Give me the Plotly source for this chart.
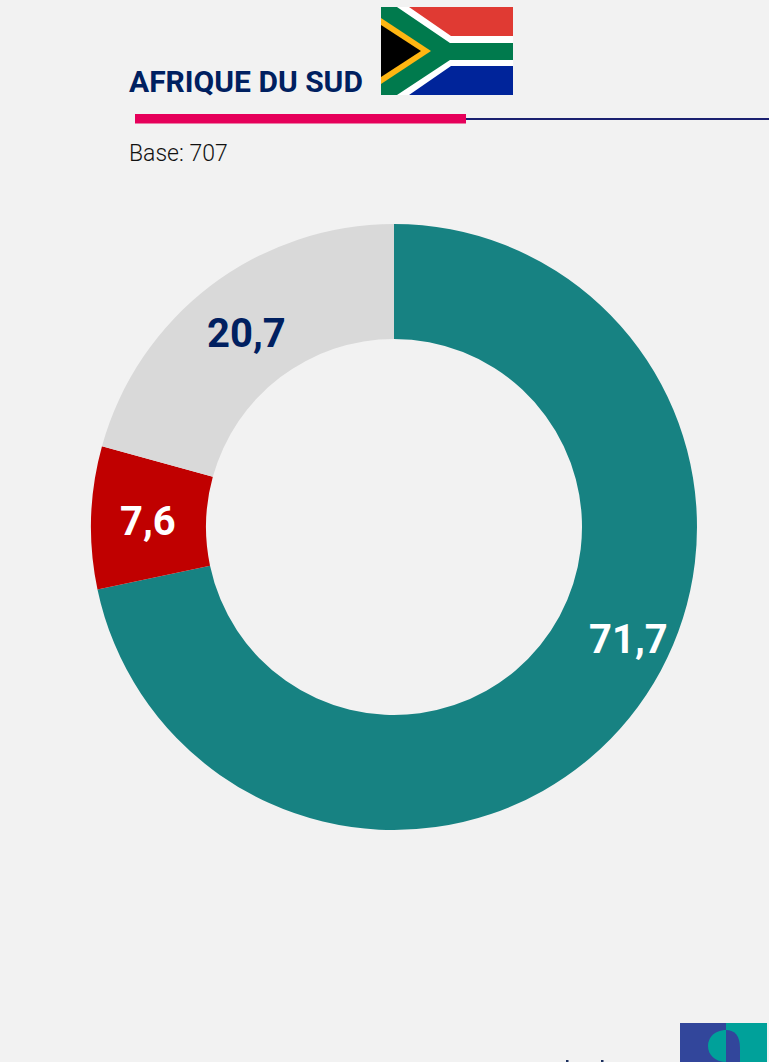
import plotly.graph_objects as go

W, H = 769, 1062
labels = ["Catégorie A", "Catégorie B", "Catégorie C"]
values = [71.7, 7.6, 20.7]
colors = ["#178282", "#C00000", "#D9D9D9"]
label_colors = ["white", "white", "#002060"]
label_pos = [(628, 639), (148, 521), (246, 334)]
title = "AFRIQUE DU SUD"
base = "Base: 707"
BG = "#F2F2F2"
FONT = "Roboto"

def px(x): return x / W
def py(y): return 1 - y / H

fig = go.Figure(go.Pie(
    labels=labels, values=values, sort=False, direction="clockwise", rotation=0,
    hole=188 / 303, marker=dict(colors=colors, line=dict(width=0)),
    textinfo="none", hoverinfo="label+value", showlegend=False,
    domain=dict(x=[px(91), px(697)], y=[py(830), py(224)]),
))

def rect(x0, y0, x1, y1, c):
    return dict(type="rect", xref="paper", yref="paper", x0=px(x0), x1=px(x1),
                y0=py(y0), y1=py(y1), fillcolor=c, line_width=0, layer="above")

def poly(pts, c):
    path = "M" + " L".join(f"{px(x):.5f},{py(y):.5f}" for x, y in pts) + " Z"
    return dict(type="path", xref="paper", yref="paper", path=path, fillcolor=c,
                line_width=0, layer="above")

shapes = [
    dict(type="line", xref="paper", yref="paper", x0=px(460), x1=1, y0=py(119), y1=py(119),
         line=dict(color="#1B2070", width=2)),
    rect(135, 114, 466, 123.5, "#E6005A"),
    # flag
    rect(381, 7, 513, 51, "#E03A33"),
    rect(381, 51, 513, 95, "#00249A"),
    poly([(381, 7), (409, 7), (451, 36), (513, 36), (513, 66), (451, 66), (409, 95), (381, 95)], "#FFFFFF"),
    poly([(381, 7), (397, 7), (450, 43), (513, 43), (513, 60), (450, 60), (397, 95), (381, 95)], "#007A4D"),
    poly([(381, 18), (431, 51), (381, 84)], "#FFB612"),
    poly([(381, 25), (421, 51), (381, 77)], "#000000"),
    # logo
    rect(680, 1023, 726, 1062, "#32469B"),
    rect(726, 1023, 767, 1062, "#00A19A"),
    dict(type="path", xref="paper", yref="paper", fillcolor="#00A19A", line_width=0, layer="above",
         path=f"M{px(727)},{py(1030)} C{px(712)},{py(1030)} {px(708)},{py(1040)} {px(708)},{py(1046)} "
              f"C{px(708)},{py(1054)} {px(714)},{py(1062)} {px(727)},{py(1062)} Z"),
    dict(type="path", xref="paper", yref="paper", fillcolor="#32469B", line_width=0, layer="above",
         path=f"M{px(726)},{py(1030)} C{px(735)},{py(1030)} {px(740)},{py(1036)} {px(740)},{py(1048)} "
              f"L{px(740)},{py(1062)} L{px(726)},{py(1062)} Z"),
    # clipped footer text tops
    rect(566, 1060, 568.5, 1062, "#1B2F5E"),
    rect(601, 1060, 603.5, 1062, "#1B2F5E"),
]

annotations = [
    dict(text=f"<b>{title}</b>", x=px(128), y=py(81), xanchor="left", yanchor="middle",
         font=dict(family=FONT, size=30, color="#002060")),
    dict(text=base, x=px(128), y=py(153), xanchor="left", yanchor="middle",
         font=dict(family=FONT, size=23, color="#111111", weight=300)),
]
for v, c, (x, y) in zip(values, label_colors, label_pos):
    annotations.append(dict(text="<b>" + f"{v:.1f}".replace(".", ",") + "</b>", x=px(x), y=py(y),
                            xanchor="center", yanchor="middle",
                            font=dict(family=FONT, size=40, color=c)))
for a in annotations:
    a.update(xref="paper", yref="paper", showarrow=False, borderpad=0)

fig.update_layout(width=W, height=H, margin=dict(l=0, r=0, t=0, b=0), autosize=False,
                  paper_bgcolor=BG, plot_bgcolor=BG, shapes=shapes, annotations=annotations)
fig.write_html("out.html", config=dict(displayModeBar=False),
               post_script="document.body.style.margin='0';document.body.style.overflow='hidden';document.documentElement.style.background='#F2F2F2';")
